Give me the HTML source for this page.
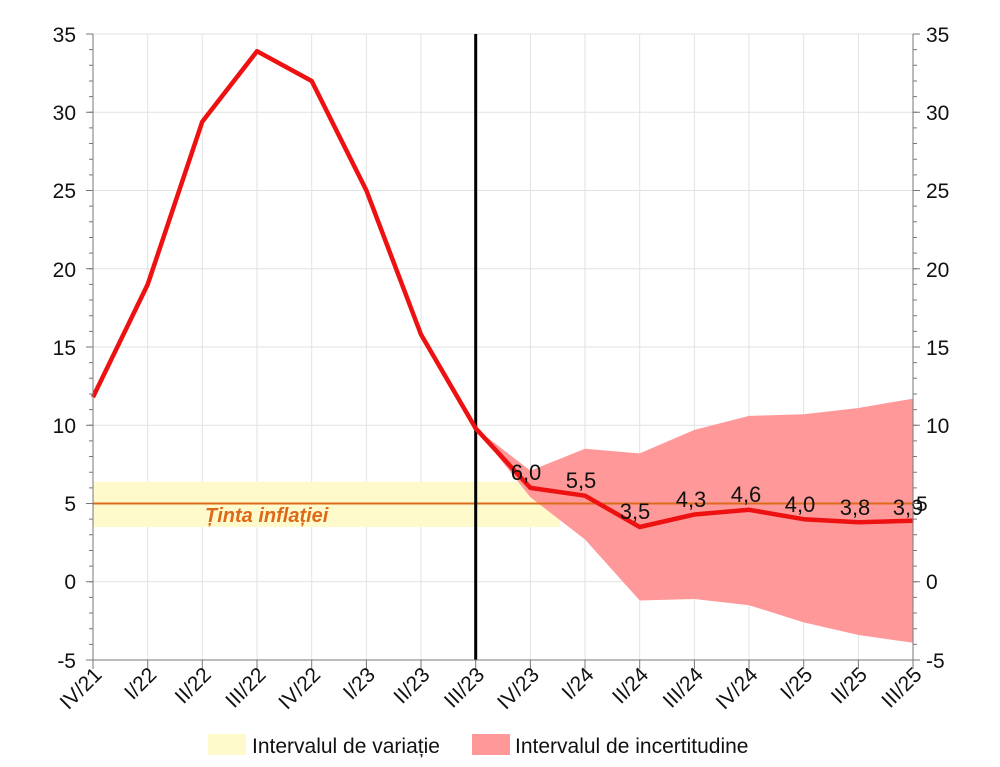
<!DOCTYPE html>
<html><head><meta charset="utf-8"><style>body{margin:0;background:#fff}svg{display:block;font-family:"Liberation Sans",sans-serif}</style></head>
<body>
<svg width="1000" height="767" viewBox="0 0 1000 767" xmlns="http://www.w3.org/2000/svg">
<g stroke="#e2e2e2" stroke-width="1">
<line x1="147.7" y1="34" x2="147.7" y2="660"/><line x1="202.3" y1="34" x2="202.3" y2="660"/><line x1="257" y1="34" x2="257" y2="660"/><line x1="311.7" y1="34" x2="311.7" y2="660"/><line x1="366.4" y1="34" x2="366.4" y2="660"/><line x1="421" y1="34" x2="421" y2="660"/><line x1="530.4" y1="34" x2="530.4" y2="660"/><line x1="585" y1="34" x2="585" y2="660"/><line x1="639.7" y1="34" x2="639.7" y2="660"/><line x1="694.4" y1="34" x2="694.4" y2="660"/><line x1="749" y1="34" x2="749" y2="660"/><line x1="803.7" y1="34" x2="803.7" y2="660"/><line x1="858.4" y1="34" x2="858.4" y2="660"/>
<line x1="93" y1="34" x2="913" y2="34"/><line x1="93" y1="112.25" x2="913" y2="112.25"/><line x1="93" y1="190.5" x2="913" y2="190.5"/><line x1="93" y1="268.75" x2="913" y2="268.75"/><line x1="93" y1="347" x2="913" y2="347"/><line x1="93" y1="425.25" x2="913" y2="425.25"/><line x1="93" y1="503.5" x2="913" y2="503.5"/><line x1="93" y1="581.75" x2="913" y2="581.75"/>
</g>
<rect x="93" y="481.6" width="467" height="45.4" fill="#fffacc"/>
<polygon points="475.7,428.4 530.4,470.6 585,448.7 639.7,453.4 694.4,429.9 749,415.9 803.7,414.3 858.4,408 913,398.6 913,642.8 858.4,635 803.7,622.4 749,605.2 694.4,599 639.7,600.5 585,539.5 530.4,497.2" fill="#ff9999"/>
<line x1="93" y1="503.5" x2="913" y2="503.5" stroke="#dd6a1a" stroke-width="2"/>
<text x="205" y="522" font-size="20" font-weight="bold" font-style="italic" fill="#dd6a1a">Ținta inflației</text>
<line x1="475.7" y1="34" x2="475.7" y2="660" stroke="#000" stroke-width="3"/>
<polyline points="93,397.1 147.7,284.4 202.3,121.6 257,51.2 311.7,81 366.4,190.5 421,334.5 475.7,428.4 530.4,487.9 585,495.7 639.7,527 694.4,514.5 749,509.8 803.7,519.2 858.4,522.3 913,520.7" fill="none" stroke="#ee1111" stroke-width="4.5" stroke-linejoin="round"/>
<g font-size="22" text-anchor="middle" fill="#111">
<text x="526" y="480">6,0</text><text x="581" y="488">5,5</text><text x="635" y="519">3,5</text><text x="691" y="507">4,3</text><text x="746" y="502">4,6</text><text x="800" y="512">4,0</text><text x="855" y="515">3,8</text><text x="908" y="515">3,9</text>
</g>
<g stroke="#777" stroke-width="1" fill="none">
<line x1="93" y1="34" x2="93" y2="660"/><line x1="913" y1="34" x2="913" y2="660"/><line x1="93" y1="660" x2="913" y2="660"/>
</g>
<line x1="91" y1="660.5" x2="91" y2="33" stroke="#777" stroke-width="4" stroke-dasharray="1 14.65"/>
<line x1="915" y1="660.5" x2="915" y2="33" stroke="#777" stroke-width="4" stroke-dasharray="1 14.65"/>
<line x1="89.5" y1="660.5" x2="89.5" y2="33" stroke="#777" stroke-width="7" stroke-dasharray="1 77.25"/>
<line x1="916.5" y1="660.5" x2="916.5" y2="33" stroke="#777" stroke-width="7" stroke-dasharray="1 77.25"/>
<g font-size="21" fill="#111" text-anchor="end">
<text x="76" y="42">35</text><text x="76" y="120">30</text><text x="76" y="198">25</text><text x="76" y="277">20</text><text x="76" y="355">15</text><text x="76" y="433">10</text><text x="76" y="511">5</text><text x="76" y="589">0</text><text x="76" y="668">-5</text>
</g>
<g font-size="21" fill="#111">
<text x="926" y="42">35</text><text x="926" y="120">30</text><text x="926" y="198">25</text><text x="926" y="277">20</text><text x="926" y="355">15</text><text x="926" y="433">10</text><text x="916" y="511">5</text><text x="926" y="589">0</text><text x="926" y="668">-5</text>
</g>
<g stroke="#777">
<line x1="93" y1="660" x2="93" y2="669"/><line x1="147.7" y1="660" x2="147.7" y2="669"/><line x1="202.3" y1="660" x2="202.3" y2="669"/><line x1="257" y1="660" x2="257" y2="669"/><line x1="311.7" y1="660" x2="311.7" y2="669"/><line x1="366.4" y1="660" x2="366.4" y2="669"/><line x1="421" y1="660" x2="421" y2="669"/><line x1="475.7" y1="660" x2="475.7" y2="669"/><line x1="530.4" y1="660" x2="530.4" y2="669"/><line x1="585" y1="660" x2="585" y2="669"/><line x1="639.7" y1="660" x2="639.7" y2="669"/><line x1="694.4" y1="660" x2="694.4" y2="669"/><line x1="749" y1="660" x2="749" y2="669"/><line x1="803.7" y1="660" x2="803.7" y2="669"/><line x1="858.4" y1="660" x2="858.4" y2="669"/><line x1="913" y1="660" x2="913" y2="669"/>
</g>
<g font-size="21" fill="#111" text-anchor="end">
<text transform="translate(103,676) rotate(-45)">IV/21</text>
<text transform="translate(157.7,676) rotate(-45)">I/22</text>
<text transform="translate(212.3,676) rotate(-45)">II/22</text>
<text transform="translate(267,676) rotate(-45)">III/22</text>
<text transform="translate(321.7,676) rotate(-45)">IV/22</text>
<text transform="translate(376.4,676) rotate(-45)">I/23</text>
<text transform="translate(431,676) rotate(-45)">II/23</text>
<text transform="translate(485.7,676) rotate(-45)">III/23</text>
<text transform="translate(540.4,676) rotate(-45)">IV/23</text>
<text transform="translate(595,676) rotate(-45)">I/24</text>
<text transform="translate(649.7,676) rotate(-45)">II/24</text>
<text transform="translate(704.4,676) rotate(-45)">III/24</text>
<text transform="translate(759,676) rotate(-45)">IV/24</text>
<text transform="translate(813.7,676) rotate(-45)">I/25</text>
<text transform="translate(868.4,676) rotate(-45)">II/25</text>
<text transform="translate(923,676) rotate(-45)">III/25</text>
</g>
<rect x="208" y="734" width="38" height="21" fill="#fffacc"/><text x="252" y="753" font-size="21" fill="#111">Intervalul de variație</text>
<rect x="472" y="734" width="38" height="21" fill="#ff9999"/><text x="515" y="753" font-size="21" fill="#111">Intervalul de incertitudine</text>
</svg>
</body></html>
